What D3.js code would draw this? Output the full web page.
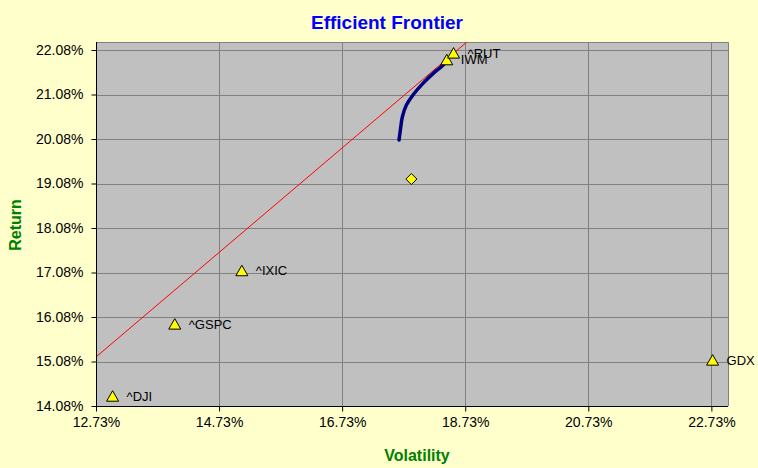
<!DOCTYPE html>
<html><head><meta charset="utf-8">
<script src="https://cdn.jsdelivr.net/npm/d3@7"></script>
<style>
html,body{margin:0;padding:0;background:#FFFFCC;}
svg{display:block;font-family:Arial,"Liberation Sans",sans-serif;}
</style></head>
<body>
<svg id="chart" width="758" height="468"></svg>
<script>
// ---- data (percent) ----
const xTickValues = [12.73, 14.73, 16.73, 18.73, 20.73, 22.73];
const yTickValues = [14.08, 15.08, 16.08, 17.08, 18.08, 19.08, 20.08, 21.08, 22.08];
const assetNames = ["^DJI", "^GSPC", "^IXIC", "GDX", "IWM", "^RUT"];
const assetVol   = [13.00, 14.01, 15.10, 22.75, 18.43, 18.54];
const assetRet   = [14.30, 15.92, 17.12, 15.11, 21.86, 22.01];
const frontierVol = [17.654, 17.676, 17.709, 17.774, 17.881, 18.043, 18.206, 18.368, 18.423];
const frontierRet = [20.057, 20.282, 20.581, 20.844, 21.07, 21.33, 21.55, 21.74, 21.82];
const portfolioVol = [17.855];
const portfolioRet = [19.18];
const cmlVol = [0, 20];
const cmlRet = [0.23, 23.72];

const svg = d3.select("#chart");
const L = 96, R = 728, T = 42, B = 406;
const x = d3.scaleLinear().domain([12.73, 23.0]).range([L, R]);
const y = d3.scaleLinear().domain([14.08, 22.26]).range([B, T]);
const fmt = d => d.toFixed(2) + "%";

svg.append("rect").attr("width", 758).attr("height", 468).attr("fill", "#FFFFCC");

// plot area
svg.append("rect").attr("x", L).attr("y", T).attr("width", R - L).attr("height", B - T).attr("fill", "#C0C0C0");

// gridlines
const g = svg.append("g");
g.selectAll(".gx").data(xTickValues.slice(1)).enter().append("line")
  .attr("x1", d => Math.round(x(d)) + 0.5).attr("x2", d => Math.round(x(d)) + 0.5)
  .attr("y1", T).attr("y2", B).attr("stroke", "#808080").attr("stroke-width", 1);
g.selectAll(".gy").data(yTickValues.slice(1)).enter().append("line")
  .attr("y1", d => Math.round(y(d)) + 0.5).attr("y2", d => Math.round(y(d)) + 0.5)
  .attr("x1", L).attr("x2", R).attr("stroke", "#808080").attr("stroke-width", 1);

// top/right border
svg.append("path").attr("d", `M${L},${T + 0.5}H${R + 0.5}V${B}`).attr("fill", "none").attr("stroke", "#808080");

// clip
svg.append("clipPath").attr("id", "clip").append("rect").attr("x", L).attr("y", T).attr("width", R - L).attr("height", B - T);
const plot = svg.append("g").attr("clip-path", "url(#clip)");

// capital market line
const cml = cmlVol.map((v, i) => [v, cmlRet[i]]);
plot.append("path").datum(cml)
  .attr("d", d3.line().x(d => x(d[0])).y(d => y(d[1])))
  .attr("fill", "none").attr("stroke", "#FF0000").attr("stroke-width", 1);

// frontier
const fr = frontierVol.map((v, i) => [v, frontierRet[i]]);
plot.append("path").datum(fr)
  .attr("d", d3.line().curve(d3.curveMonotoneY).x(d => x(d[0])).y(d => y(d[1])))
  .attr("fill", "none").attr("stroke", "#000080").attr("stroke-width", 3.5).attr("stroke-linecap", "round");

// axes
const xAxis = svg.append("g").attr("transform", `translate(0,${B + 0.5})`)
  .call(d3.axisBottom(x).tickValues(xTickValues).tickFormat(fmt).tickSizeOuter(0).tickSize(5).tickPadding(6));
const yAxis = svg.append("g").attr("transform", `translate(${L + 0.5},0)`)
  .call(d3.axisLeft(y).tickValues(yTickValues).tickFormat(fmt).tickSizeOuter(0).tickSize(5).tickPadding(8));
[xAxis, yAxis].forEach(a => {
  a.selectAll("path.domain").attr("stroke", "#000");
  a.selectAll(".tick line").attr("stroke", "#000");
  a.selectAll(".tick text").attr("fill", "#000").style("font-size", "14px").style("font-family", "Arial, 'Liberation Sans', sans-serif");
});
xAxis.select("path.domain").attr("d", `M${L},0H${R}`);
yAxis.select("path.domain").attr("d", `M0,${T}V${B}`);

// asset markers (triangles)
const assets = assetNames.map((n, i) => ({ name: n, vol: assetVol[i], ret: assetRet[i] }));
const tri = "M0,-5.5L6,5L-6,5Z";
svg.selectAll(".asset").data(assets).enter().append("path")
  .attr("d", tri)
  .attr("transform", d => `translate(${x(d.vol)},${y(d.ret)})`)
  .attr("fill", "#FFFF00").attr("stroke", "#000").attr("stroke-width", 1);
svg.selectAll(".alabel").data(assets).enter().append("text")
  .attr("x", d => x(d.vol) + 14).attr("y", d => y(d.ret))
  .attr("dy", "0.35em").style("font-size", "13px").attr("fill", "#000")
  .text(d => d.name);

// portfolio diamond
svg.selectAll(".port").data(portfolioVol.map((v, i) => [v, portfolioRet[i]])).enter().append("path")
  .attr("d", "M0,-5.5L5.5,0L0,5.5L-5.5,0Z")
  .attr("transform", d => `translate(${x(d[0])},${y(d[1])})`)
  .attr("fill", "#FFFF00").attr("stroke", "#000").attr("stroke-width", 1);

// titles
svg.append("text").attr("x", 387).attr("y", 29).attr("text-anchor", "middle")
  .style("font-size", "19px").style("font-weight", "bold").attr("fill", "#0000FF").text("Efficient Frontier");
svg.append("text").attr("x", 417).attr("y", 461).attr("text-anchor", "middle")
  .style("font-size", "16px").style("font-weight", "bold").attr("fill", "#008000").text("Volatility");
svg.append("text").attr("transform", "translate(21,225) rotate(-90)").attr("text-anchor", "middle")
  .style("font-size", "16px").style("font-weight", "bold").attr("fill", "#008000").text("Return");
</script>
</body></html>
